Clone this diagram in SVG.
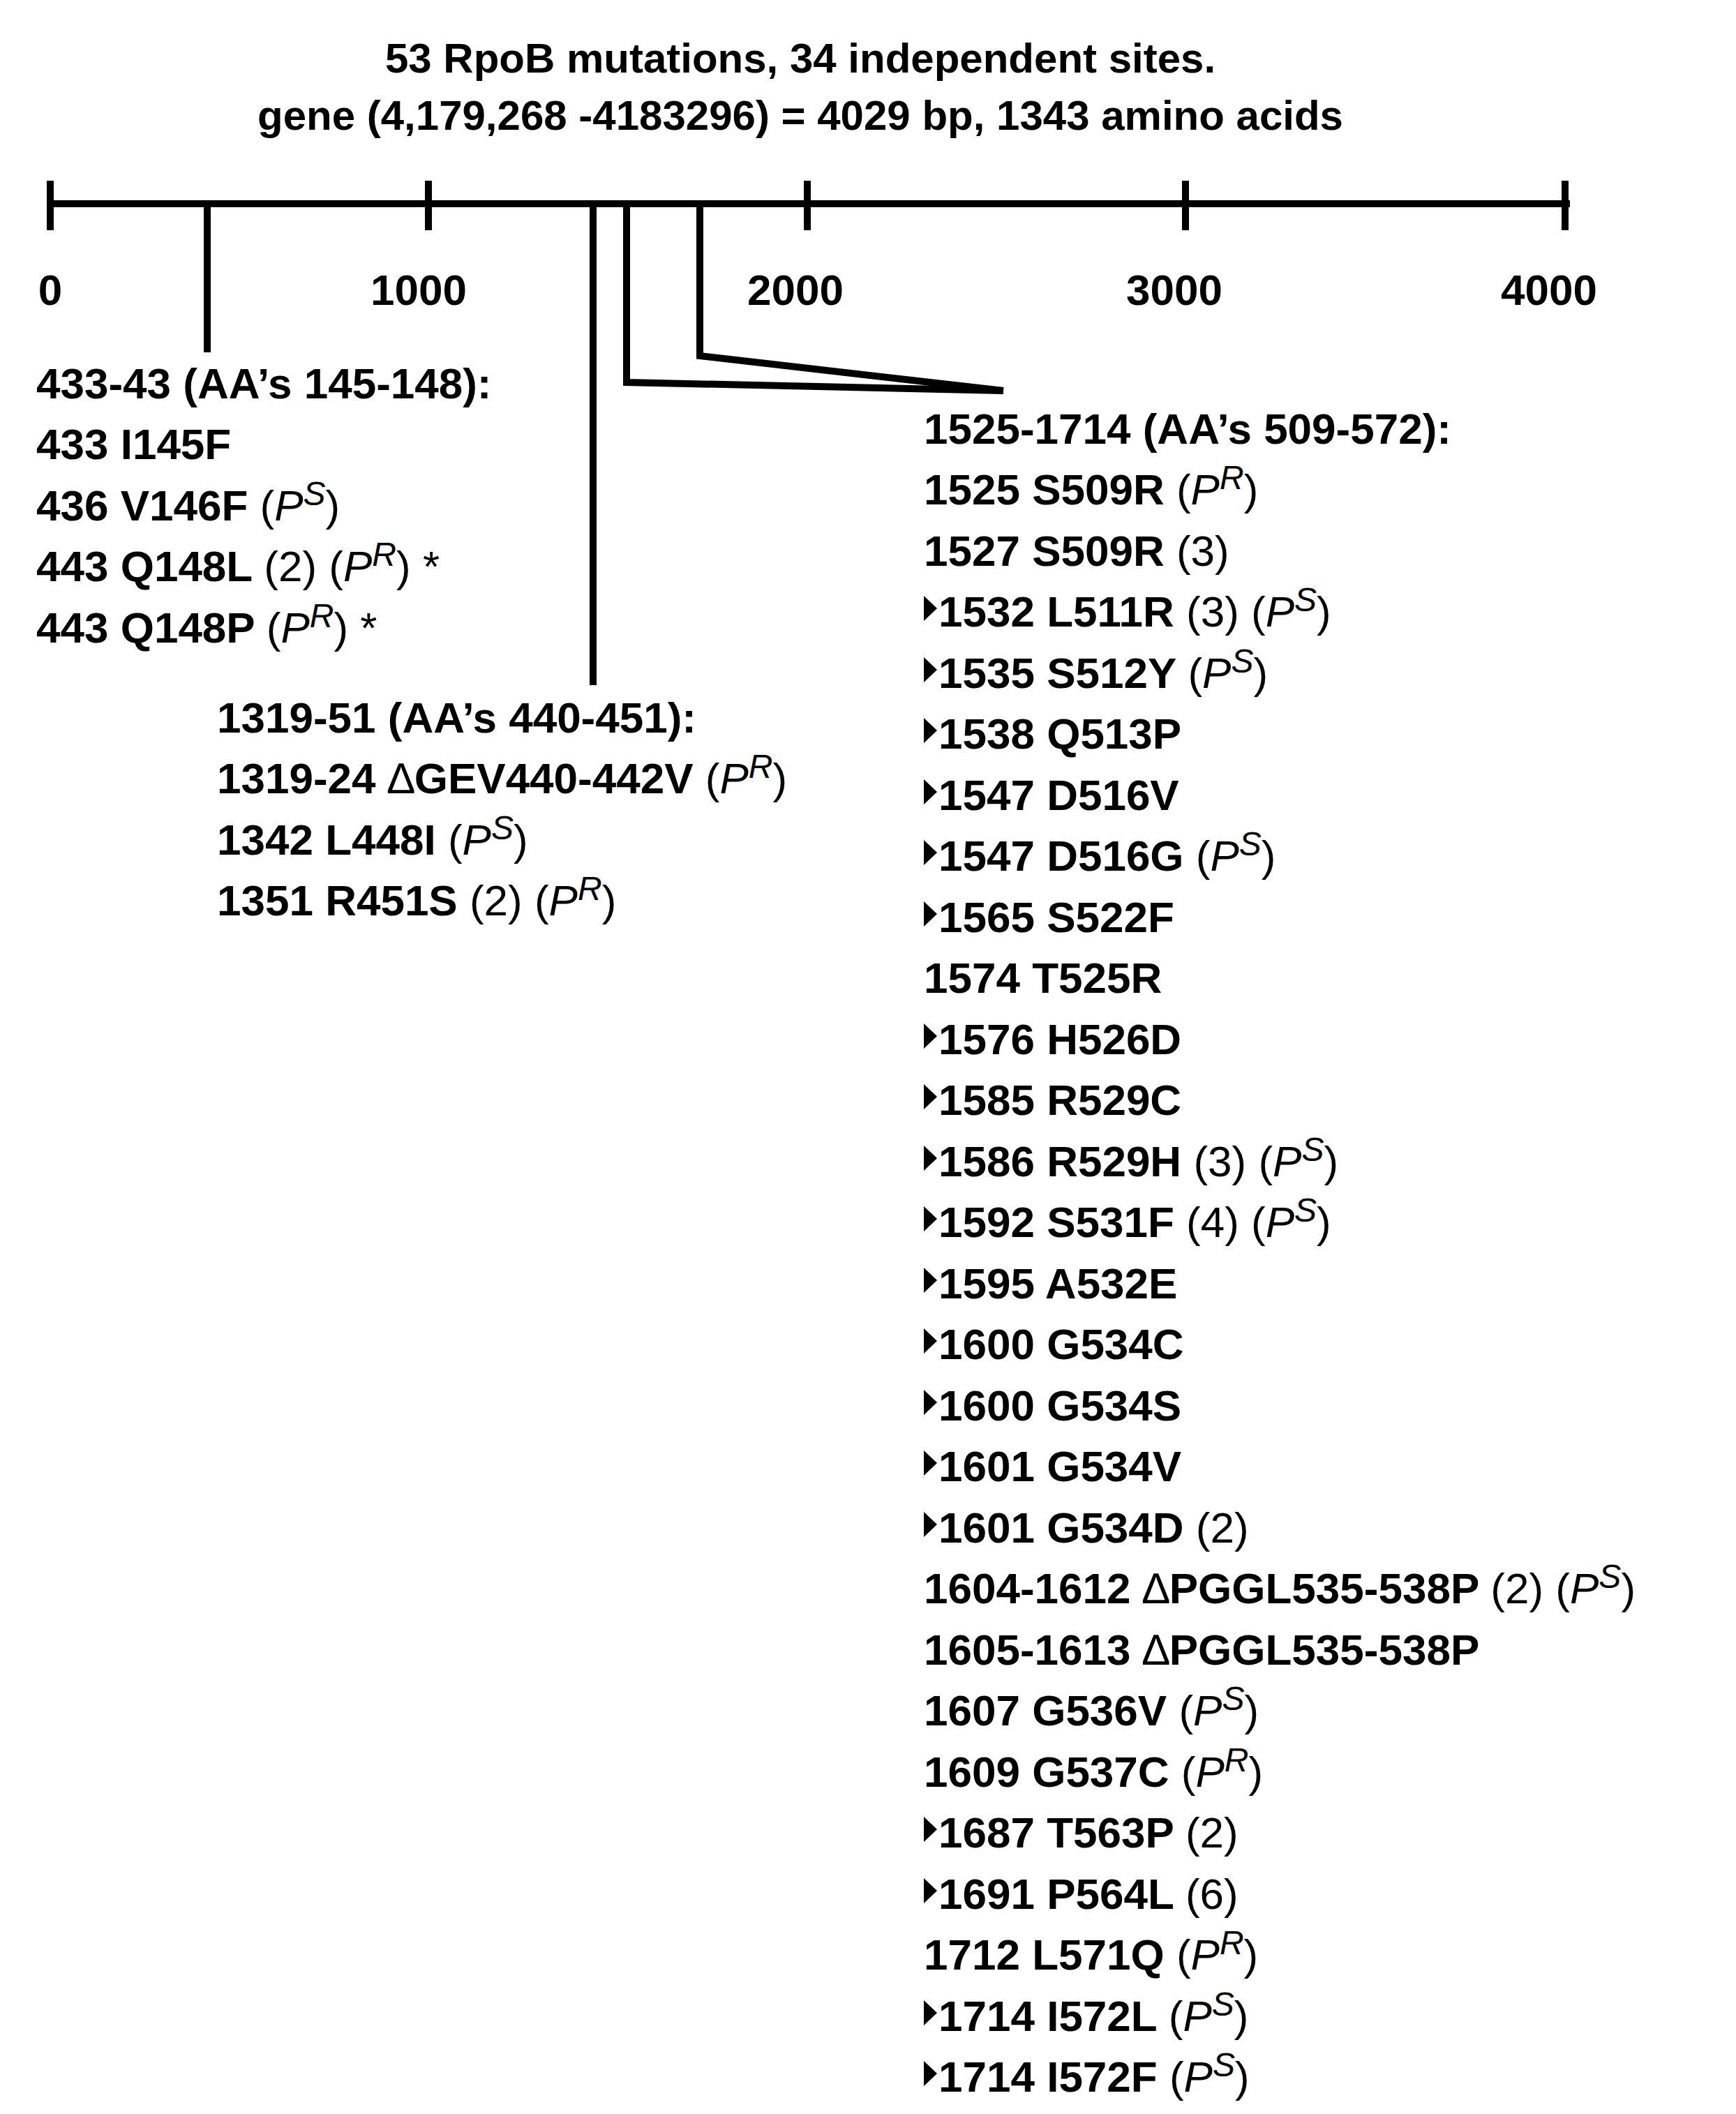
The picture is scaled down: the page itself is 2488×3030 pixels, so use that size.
<svg xmlns="http://www.w3.org/2000/svg" width="2488" height="3030" viewBox="0 0 2488 3030">
<style>
text{font-family:"Liberation Sans",Arial,sans-serif;font-size:62px;font-weight:bold;fill:#000}
.t{font-size:60px;text-anchor:middle}
.ax{text-anchor:middle}
.n{font-weight:normal}
.i{font-weight:normal;font-style:italic}
.s{font-weight:normal;font-style:italic;font-size:48px}
.ln{stroke:#000;stroke-width:10;fill:none;stroke-linecap:butt}
</style>
<defs><path id="tri" d="M0,-44 L19,-26 L0,-8 Z" fill="#000"/></defs>
<g id="title">
<text class="t" x="1147" y="104">53 RpoB mutations, 34 independent sites.</text>
<text class="t" x="1147" y="186">gene (4,179,268 -4183296) = 4029 bp, 1343 amino acids</text>
</g>
<g id="axis">
<line class="ln" x1="67" y1="292" x2="2250" y2="292"/>
<line class="ln" x1="72" y1="259" x2="72" y2="330"/>
<line class="ln" x1="614" y1="259" x2="614" y2="330"/>
<line class="ln" x1="1157" y1="259" x2="1157" y2="330"/>
<line class="ln" x1="1699" y1="259" x2="1699" y2="330"/>
<line class="ln" x1="2243" y1="259" x2="2243" y2="330"/>
<text class="ax" x="72" y="437">0</text>
<text class="ax" x="600" y="437">1000</text>
<text class="ax" x="1140" y="437">2000</text>
<text class="ax" x="1683" y="437">3000</text>
<text class="ax" x="2220" y="437">4000</text>
</g>
<g id="connectors">
<line class="ln" x1="297" y1="292" x2="297" y2="505"/>
<line class="ln" x1="850" y1="292" x2="850" y2="982"/>
<polyline class="ln" points="898,292 898,548 1438,560"/>
<polyline class="ln" points="1003,292 1003,510 1438,560"/>
</g>
<g id="group1">
<text x="52" y="571">433-43 (AA’s 145-148):</text>
<text x="52" y="658">433 I145F</text>
<text x="52" y="746">436 V146F <tspan class="n">(</tspan><tspan class="i">P</tspan><tspan class="s" dy="-22">S</tspan><tspan class="n" dy="22">)</tspan></text>
<text x="52" y="833">443 Q148L <tspan class="n">(2) (</tspan><tspan class="i">P</tspan><tspan class="s" dy="-22">R</tspan><tspan class="n" dy="22">) *</tspan></text>
<text x="52" y="921">443 Q148P <tspan class="n">(</tspan><tspan class="i">P</tspan><tspan class="s" dy="-22">R</tspan><tspan class="n" dy="22">) *</tspan></text>
</g>
<g id="group2">
<text x="311" y="1050">1319-51 (AA’s 440-451):</text>
<text x="311" y="1137">1319-24 <tspan class="n">∆</tspan>GEV440-442V <tspan class="n">(</tspan><tspan class="i">P</tspan><tspan class="s" dy="-22">R</tspan><tspan class="n" dy="22">)</tspan></text>
<text x="311" y="1225">1342 L448I <tspan class="n">(</tspan><tspan class="i">P</tspan><tspan class="s" dy="-22">S</tspan><tspan class="n" dy="22">)</tspan></text>
<text x="311" y="1312">1351 R451S <tspan class="n">(2) (</tspan><tspan class="i">P</tspan><tspan class="s" dy="-22">R</tspan><tspan class="n" dy="22">)</tspan></text>
</g>
<g id="group3">
<text x="1324" y="636">1525-1714 (AA’s 509-572):</text>
<text x="1324" y="723">1525 S509R <tspan class="n">(</tspan><tspan class="i">P</tspan><tspan class="s" dy="-22">R</tspan><tspan class="n" dy="22">)</tspan></text>
<text x="1324" y="811">1527 S509R <tspan class="n">(3)</tspan></text>
<use href="#tri" x="1324" y="898"/><text x="1345" y="898">1532 L511R <tspan class="n">(3) (</tspan><tspan class="i">P</tspan><tspan class="s" dy="-22">S</tspan><tspan class="n" dy="22">)</tspan></text>
<use href="#tri" x="1324" y="986"/><text x="1345" y="986">1535 S512Y <tspan class="n">(</tspan><tspan class="i">P</tspan><tspan class="s" dy="-22">S</tspan><tspan class="n" dy="22">)</tspan></text>
<use href="#tri" x="1324" y="1073"/><text x="1345" y="1073">1538 Q513P</text>
<use href="#tri" x="1324" y="1161"/><text x="1345" y="1161">1547 D516V</text>
<use href="#tri" x="1324" y="1248"/><text x="1345" y="1248">1547 D516G <tspan class="n">(</tspan><tspan class="i">P</tspan><tspan class="s" dy="-22">S</tspan><tspan class="n" dy="22">)</tspan></text>
<use href="#tri" x="1324" y="1336"/><text x="1345" y="1336">1565 S522F</text>
<text x="1324" y="1423">1574 T525R</text>
<use href="#tri" x="1324" y="1511"/><text x="1345" y="1511">1576 H526D</text>
<use href="#tri" x="1324" y="1598"/><text x="1345" y="1598">1585 R529C</text>
<use href="#tri" x="1324" y="1686"/><text x="1345" y="1686">1586 R529H <tspan class="n">(3) (</tspan><tspan class="i">P</tspan><tspan class="s" dy="-22">S</tspan><tspan class="n" dy="22">)</tspan></text>
<use href="#tri" x="1324" y="1773"/><text x="1345" y="1773">1592 S531F <tspan class="n">(4) (</tspan><tspan class="i">P</tspan><tspan class="s" dy="-22">S</tspan><tspan class="n" dy="22">)</tspan></text>
<use href="#tri" x="1324" y="1861"/><text x="1345" y="1861">1595 A532E</text>
<use href="#tri" x="1324" y="1948"/><text x="1345" y="1948">1600 G534C</text>
<use href="#tri" x="1324" y="2036"/><text x="1345" y="2036">1600 G534S</text>
<use href="#tri" x="1324" y="2123"/><text x="1345" y="2123">1601 G534V</text>
<use href="#tri" x="1324" y="2211"/><text x="1345" y="2211">1601 G534D <tspan class="n">(2)</tspan></text>
<text x="1324" y="2298">1604-1612 <tspan class="n">∆</tspan>PGGL535-538P <tspan class="n">(2) (</tspan><tspan class="i">P</tspan><tspan class="s" dy="-22">S</tspan><tspan class="n" dy="22">)</tspan></text>
<text x="1324" y="2386">1605-1613 <tspan class="n">∆</tspan>PGGL535-538P</text>
<text x="1324" y="2473">1607 G536V <tspan class="n">(</tspan><tspan class="i">P</tspan><tspan class="s" dy="-22">S</tspan><tspan class="n" dy="22">)</tspan></text>
<text x="1324" y="2561">1609 G537C <tspan class="n">(</tspan><tspan class="i">P</tspan><tspan class="s" dy="-22">R</tspan><tspan class="n" dy="22">)</tspan></text>
<use href="#tri" x="1324" y="2648"/><text x="1345" y="2648">1687 T563P <tspan class="n">(2)</tspan></text>
<use href="#tri" x="1324" y="2736"/><text x="1345" y="2736">1691 P564L <tspan class="n">(6)</tspan></text>
<text x="1324" y="2823">1712 L571Q <tspan class="n">(</tspan><tspan class="i">P</tspan><tspan class="s" dy="-22">R</tspan><tspan class="n" dy="22">)</tspan></text>
<use href="#tri" x="1324" y="2911"/><text x="1345" y="2911">1714 I572L <tspan class="n">(</tspan><tspan class="i">P</tspan><tspan class="s" dy="-22">S</tspan><tspan class="n" dy="22">)</tspan></text>
<use href="#tri" x="1324" y="2998"/><text x="1345" y="2998">1714 I572F <tspan class="n">(</tspan><tspan class="i">P</tspan><tspan class="s" dy="-22">S</tspan><tspan class="n" dy="22">)</tspan></text>
</g>
</svg>
